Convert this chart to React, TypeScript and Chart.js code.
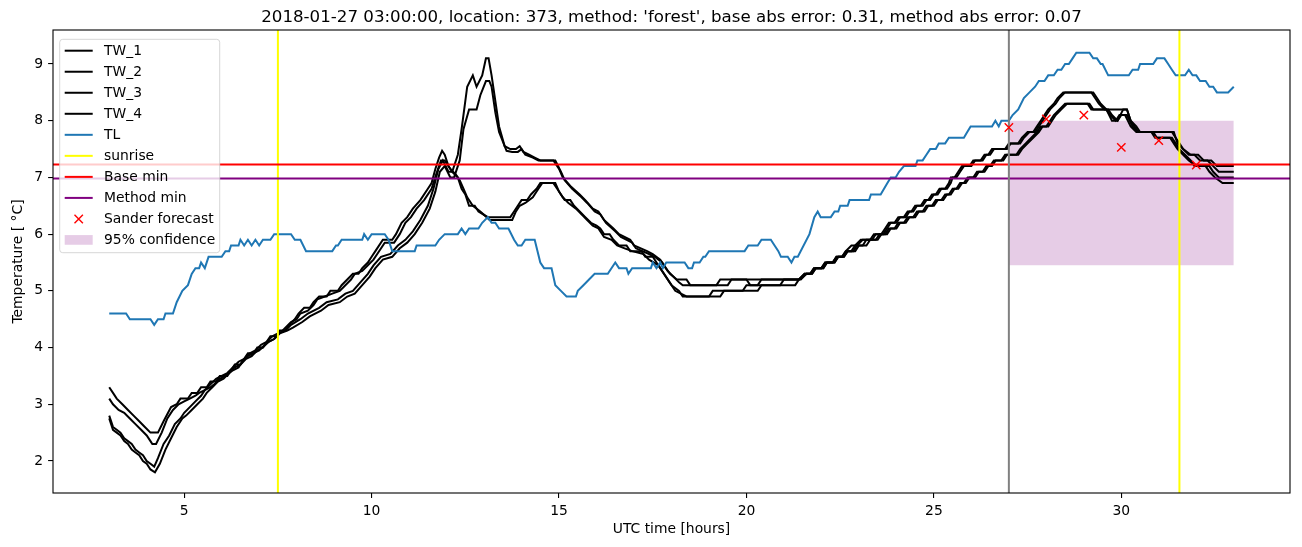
import { useEffect, useRef } from 'react';
import { Chart, registerables } from 'chart.js';

Chart.register(...registerables);

type P = [number, number];

const TITLE = "2018-01-27 03:00:00, location: 373, method: 'forest', base abs error: 0.31, method abs error: 0.07";
const X_LABEL = 'UTC time [hours]';
const Y_LABEL = 'Temperature [ \u00B0C]';
const X_TICKS = [5, 10, 15, 20, 25, 30];
const Y_TICKS = [2, 3, 4, 5, 6, 7, 8, 9];
const X_RANGE = [1.5, 34.5];
const Y_RANGE = [1.435, 9.6];

const TW_1: P[] = [
  [3.0,3.3],[3.1,3.2],[3.2,3.1],[3.35,3.0],[3.5,2.9],[3.65,2.8],[3.8,2.7],[3.95,2.6],[4.1,2.5],[4.3,2.5],
  [4.45,2.7],[4.65,2.95],[4.8,3.0],[4.9,3.1],[5.1,3.1],[5.2,3.2],[5.35,3.2],[5.45,3.3],[5.6,3.3],[5.7,3.4],[5.85,3.4],[5.95,3.5],[6.15,3.5],[6.25,3.6],[6.35,3.7],[6.5,3.7],[6.6,3.8],[6.7,3.9],[6.85,3.9],[6.95,4.0],[7.1,4.0],[7.2,4.1],[7.3,4.2],[7.45,4.2],[7.55,4.3],[7.7,4.3],
  [7.8,4.4],[7.95,4.5],[8.05,4.6],[8.2,4.7],[8.35,4.7],[8.45,4.8],[8.6,4.9],[8.8,4.9],[8.9,5.0],[9.1,5.0],[9.2,5.1],[9.35,5.2],[9.5,5.3],[9.65,5.3],[9.75,5.4],[9.9,5.5],[10.0,5.6],[10.1,5.7],[10.3,5.9],[10.55,5.9],[10.65,6.0],[10.8,6.2],[10.95,6.3],[11.1,6.45],[11.3,6.6],[11.5,6.8],[11.6,6.9],[11.7,7.15],[11.8,7.35],[11.88,7.47],[11.95,7.4],[12.05,7.2],[12.15,7.1],[12.3,7.0],[12.4,6.8],[12.5,6.7],[12.6,6.5],[12.75,6.5],[12.85,6.4],[13.1,6.3],[13.7,6.3],[13.8,6.4],[13.9,6.5],[14.0,6.6],[14.15,6.6],[14.25,6.7],[14.4,6.8],[14.5,6.9],[14.85,6.9],[14.95,6.8],[15.05,6.7],[15.15,6.6],[15.3,6.6],[15.4,6.5],[15.55,6.4],[15.7,6.3],[15.85,6.2],[16.0,6.15],[16.1,6.1],[16.2,6.0],[16.35,6.0],[16.45,5.9],[16.6,5.8],[16.8,5.8],[16.9,5.7],[17.2,5.7],[17.3,5.6],[17.5,5.6],[17.6,5.5],[17.7,5.4],[17.8,5.3],[17.9,5.2],[18.0,5.1],[18.2,5.0],[18.3,4.9],[19.0,4.9],[19.1,5.0],[19.9,5.0],[20.0,5.1],[21.3,5.1],[21.4,5.2],
  [21.55,5.3],[21.7,5.3],[21.8,5.4],[22.0,5.4],[22.1,5.5],[22.3,5.5],[22.4,5.6],[22.55,5.6],[22.65,5.7],[22.8,5.8],[23.1,5.8],[23.2,5.9],[23.45,5.9],[23.55,6.0],[23.7,6.0],[23.8,6.1],[23.95,6.1],[24.05,6.2],[24.2,6.2],[24.3,6.3],[24.45,6.3],[24.55,6.4],[24.7,6.4],[24.8,6.5],[24.95,6.5],[25.05,6.6],[25.2,6.6],[25.3,6.7],[25.4,6.7],[25.5,6.8],[25.6,6.8],[25.7,6.9],[25.8,6.9],[25.9,7.0],[26.05,7.0],[26.15,7.1],[26.3,7.1],[26.4,7.2],[26.5,7.2],[26.6,7.3],[26.8,7.3],[26.9,7.4],[27.2,7.4],[27.3,7.5],[27.45,7.6],[27.6,7.7],[27.75,7.8],[27.85,7.9],[28.0,7.9],[28.1,8.0],[28.2,8.1],[28.35,8.2],[28.5,8.3],[29.1,8.3],[29.2,8.2],[29.6,8.2],[29.7,8.1],[29.85,8.0],[29.95,8.1],[30.1,8.1],[30.25,7.9],[30.4,7.8],[30.8,7.8],[30.9,7.7],[31.3,7.7],[31.4,7.6],[31.5,7.5],[31.65,7.4],[31.8,7.3],[32.0,7.2],[32.35,7.2],[32.45,7.1],[32.6,7.0],[33.0,7.0]
];

const TW_2: P[] = [
  [3.0,3.1],[3.1,3.0],[3.25,2.9],[3.4,2.85],[3.55,2.75],[3.7,2.65],[3.85,2.55],[4.0,2.45],[4.1,2.35],[4.15,2.3],[4.25,2.3],[4.4,2.5],[4.55,2.75],[4.7,2.9],[4.85,3.0],[5.0,3.05],[5.15,3.1],[5.3,3.15],[5.4,3.2],[5.55,3.25],[5.7,3.3],[5.8,3.35],[5.95,3.45],[6.1,3.5],[6.3,3.6],[6.45,3.65],[6.55,3.75],[6.7,3.85],[6.85,3.9],[7.0,3.95],[7.15,4.05],[7.25,4.1],[7.4,4.15],[7.55,4.25],[7.7,4.35],[7.85,4.45],[8.0,4.5],[8.1,4.6],[8.3,4.65],[8.45,4.75],[8.55,4.85],[8.75,4.9],[8.95,4.95],[9.15,5.0],[9.3,5.1],[9.45,5.2],[9.55,5.3],[9.75,5.35],[9.9,5.45],[10.05,5.55],[10.15,5.65],[10.35,5.85],[10.6,5.85],[10.75,6.0],[10.9,6.2],[11.05,6.3],[11.2,6.45],[11.4,6.6],[11.6,6.8],[11.72,7.05],[11.85,7.3],[11.95,7.3],[12.1,7.15],[12.25,7.05],[12.35,6.95],[12.45,6.8],[12.55,6.65],[12.7,6.5],[12.9,6.4],[13.15,6.25],[13.75,6.25],[13.85,6.4],[13.95,6.5],[14.1,6.55],[14.3,6.65],[14.45,6.8],[14.55,6.9],[14.9,6.9],[15.0,6.75],[15.1,6.65],[15.25,6.55],[15.45,6.45],[15.6,6.35],[15.75,6.25],[15.9,6.15],[16.05,6.1],[16.2,5.95],[16.4,5.9],[16.55,5.8],[16.75,5.75],[16.95,5.7],[17.25,5.65],[17.4,5.55],[17.65,5.45],[17.75,5.35],[17.85,5.25],[17.95,5.15],[18.1,5.0],[18.4,4.9],[19.3,4.9],[19.4,5.0],[20.3,5.0],[20.4,5.1],[20.9,5.1],[21.0,5.2],[21.45,5.2],
  [21.6,5.3],[21.75,5.3],[21.85,5.4],[22.05,5.4],[22.15,5.5],[22.35,5.5],[22.45,5.6],[22.6,5.6],[22.7,5.7],[22.9,5.7],[23.0,5.8],[23.2,5.8],[23.3,5.9],[23.5,5.9],[23.6,6.0],[23.75,6.0],[23.85,6.1],[24.0,6.1],[24.1,6.2],[24.25,6.2],[24.35,6.3],[24.5,6.3],[24.6,6.4],[24.75,6.4],[24.85,6.5],[25.0,6.5],[25.1,6.6],[25.25,6.6],[25.35,6.7],[25.45,6.7],[25.55,6.8],[25.65,6.8],[25.75,6.9],[25.85,6.9],[25.95,7.0],[26.1,7.0],[26.2,7.1],[26.35,7.1],[26.45,7.2],[26.55,7.2],[26.65,7.3],[26.85,7.3],[26.95,7.4],[27.25,7.4],[27.35,7.5],[27.5,7.6],[27.65,7.7],[27.8,7.8],[27.9,7.9],[28.05,7.9],[28.15,8.0],[28.25,8.1],[28.4,8.2],[28.55,8.3],[29.15,8.3],[29.25,8.2],[29.65,8.2],[29.75,8.1],[29.9,8.0],[30.0,8.1],[30.15,8.1],[30.3,7.9],[30.45,7.8],[30.85,7.8],[30.95,7.7],[31.35,7.7],[31.45,7.6],[31.55,7.5],[31.7,7.4],[31.85,7.3],[31.95,7.2],[32.25,7.2],[32.35,7.1],[32.5,7.0],[32.7,6.9],[33.0,6.9]
];

const TW_3: P[] = [
  [3.0,2.8],[3.1,2.6],[3.2,2.55],[3.3,2.5],[3.4,2.4],[3.5,2.35],[3.6,2.3],[3.7,2.2],[3.8,2.15],[3.9,2.1],[4.0,2.0],[4.1,1.95],[4.2,1.9],[4.3,2.05],[4.45,2.3],[4.6,2.45],[4.75,2.65],[4.9,2.75],[5.0,2.85],[5.15,2.95],[5.3,3.05],[5.45,3.15],[5.55,3.25],[5.7,3.35],[5.85,3.45],[6.0,3.5],[6.15,3.55],[6.3,3.65],[6.45,3.75],[6.6,3.8],[6.75,3.9],[6.9,3.95],[7.05,4.05],[7.2,4.1],[7.35,4.2],[7.5,4.25],[7.7,4.3],
  [7.85,4.4],[8.1,4.5],[8.3,4.6],[8.6,4.7],[8.8,4.8],[9.1,4.85],[9.3,4.95],[9.5,5.0],[9.7,5.15],[9.9,5.3],[10.05,5.45],[10.25,5.6],[10.5,5.65],[10.7,5.8],[10.9,5.9],[11.1,6.05],[11.3,6.25],[11.5,6.5],[11.65,6.8],[11.78,7.15],[11.9,7.3],[12.05,7.1],[12.15,7.1],[12.3,7.4],[12.4,7.85],[12.55,8.6],[12.7,8.8],[12.8,8.6],[12.95,8.8],[13.05,9.1],[13.12,9.1],[13.2,8.8],[13.3,8.35],[13.4,7.9],[13.55,7.55],[13.7,7.5],[13.85,7.5],[13.95,7.55],[14.05,7.45],[14.2,7.4],[14.35,7.35],[14.5,7.3],[14.85,7.3],[15.0,7.15],[15.1,7.0],[15.3,6.85],[15.55,6.7],[15.7,6.6],[15.9,6.45],[16.05,6.4],[16.2,6.25],[16.45,6.1],[16.6,6.0],[16.9,5.9],[17.0,5.8],[17.35,5.7],[17.5,5.65],[17.7,5.55],[17.85,5.4],[17.96,5.3],[18.14,5.2],[18.4,5.2],[18.5,5.1],[19.2,5.1],[19.3,5.2],[20.0,5.2],[20.1,5.1],[20.3,5.1],[20.4,5.2],[21.4,5.2],
  [21.55,5.3],[21.7,5.3],[21.8,5.4],[22.0,5.4],[22.1,5.5],[22.3,5.5],[22.4,5.6],[22.55,5.6],[22.65,5.7],[22.8,5.7],[22.9,5.8],[23.05,5.9],[23.3,5.9],[23.4,6.0],[23.6,6.0],[23.7,6.1],[23.8,6.2],[23.95,6.2],[24.05,6.3],[24.2,6.3],[24.3,6.4],[24.4,6.4],[24.5,6.5],[24.65,6.5],[24.75,6.6],[24.85,6.6],[24.95,6.7],[25.05,6.7],[25.15,6.8],[25.3,6.8],[25.4,6.9],[25.45,7.0],[25.55,7.0],[25.65,7.1],[25.75,7.2],[25.95,7.2],[26.05,7.3],[26.25,7.3],[26.35,7.4],[26.45,7.4],[26.55,7.5],[26.9,7.5],[27.0,7.6],[27.25,7.6],[27.35,7.7],[27.5,7.8],[27.65,7.8],[27.75,7.9],[27.85,8.0],[27.95,8.1],[28.05,8.2],[28.2,8.3],[28.3,8.4],[28.45,8.5],[29.25,8.5],[29.35,8.4],[29.45,8.3],[29.6,8.2],[29.75,8.0],[29.9,8.0],[30.05,8.2],[30.15,8.2],[30.25,8.0],[30.4,7.9],[30.5,7.8],[31.4,7.8],[31.5,7.6],[31.65,7.5],[31.85,7.4],[32.05,7.4],[32.2,7.3],[32.4,7.3],[32.55,7.2],[33.0,7.2]
];

const TW_4: P[] = [
  [3.0,2.75],[3.1,2.55],[3.2,2.5],[3.3,2.45],[3.4,2.35],[3.5,2.3],[3.6,2.2],[3.7,2.15],[3.8,2.1],[3.9,2.0],[4.0,1.95],[4.1,1.85],[4.22,1.8],[4.35,1.95],[4.5,2.2],[4.65,2.4],[4.8,2.6],[4.95,2.75],[5.05,2.8],[5.2,2.9],[5.35,3.0],[5.5,3.1],[5.6,3.2],[5.75,3.3],[5.9,3.4],[6.05,3.45],[6.2,3.55],[6.35,3.65],[6.5,3.7],[6.65,3.8],[6.8,3.85],[6.95,3.95],[7.1,4.0],[7.25,4.1],[7.4,4.15],[7.55,4.25],[7.75,4.3],[7.9,4.35],[8.15,4.45],[8.35,4.55],[8.65,4.65],[8.85,4.75],[9.15,4.8],[9.35,4.9],[9.55,4.95],[9.75,5.1],[9.95,5.25],[10.1,5.4],[10.3,5.55],[10.55,5.6],[10.75,5.75],[10.95,5.85],[11.15,6.0],[11.35,6.2],[11.55,6.45],[11.7,6.75],[11.82,7.1],[11.95,7.2],[12.1,7.0],[12.2,7.0],[12.35,7.3],[12.45,7.85],[12.6,8.2],[12.8,8.2],[12.9,8.45],[13.05,8.7],[13.14,8.7],[13.2,8.6],[13.3,8.15],[13.4,7.8],[13.6,7.47],[13.75,7.45],[13.9,7.45],[14.0,7.5],[14.1,7.4],[14.3,7.35],[14.45,7.3],[14.9,7.3],[15.05,7.1],[15.15,6.95],[15.35,6.8],[15.6,6.65],[15.75,6.55],[15.95,6.4],[16.1,6.35],[16.25,6.2],[16.5,6.05],[16.65,5.95],[16.95,5.85],[17.05,5.75],[17.4,5.65],[17.55,5.6],[17.75,5.5],[17.9,5.35],[18.05,5.25],[18.2,5.15],[18.3,5.1],[19.5,5.1],[19.6,5.2],[21.4,5.2],
  [21.6,5.3],[21.75,5.3],[21.85,5.4],[22.05,5.4],[22.15,5.5],[22.35,5.5],[22.45,5.6],[22.6,5.6],[22.7,5.7],[22.85,5.7],[22.95,5.8],[23.1,5.9],[23.35,5.9],[23.45,6.0],[23.65,6.0],[23.75,6.1],[23.85,6.2],[24.0,6.2],[24.1,6.3],[24.25,6.3],[24.35,6.4],[24.45,6.4],[24.55,6.5],[24.7,6.5],[24.8,6.6],[24.9,6.6],[25.0,6.7],[25.1,6.7],[25.2,6.8],[25.35,6.8],[25.45,6.9],[25.5,7.0],[25.6,7.0],[25.7,7.1],[25.8,7.2],[26.0,7.2],[26.1,7.3],[26.3,7.3],[26.4,7.4],[26.5,7.4],[26.6,7.5],[26.95,7.5],[27.05,7.6],[27.3,7.6],[27.4,7.7],[27.55,7.8],[27.7,7.8],[27.8,7.9],[27.9,8.0],[28.0,8.1],[28.1,8.2],[28.25,8.3],[28.35,8.4],[28.5,8.5],[29.2,8.5],[29.3,8.4],[29.4,8.3],[29.55,8.2],[30.15,8.2],[30.25,8.0],[30.35,7.9],[30.45,7.8],[31.35,7.8],[31.45,7.7],[31.55,7.6],[31.65,7.5],[31.8,7.4],[31.95,7.4],[32.1,7.3],[32.3,7.3],[32.45,7.2],[32.6,7.1],[33.0,7.1]
];

const TL: P[] = [
  [3.0,4.6],[3.45,4.6],[3.55,4.5],[4.1,4.5],[4.2,4.4],[4.3,4.5],[4.45,4.5],[4.5,4.6],[4.7,4.6],[4.8,4.8],[4.95,5.0],[5.1,5.1],[5.2,5.3],[5.3,5.4],[5.4,5.4],[5.45,5.5],[5.55,5.4],[5.65,5.6],[6.0,5.6],[6.1,5.7],[6.2,5.7],[6.25,5.8],[6.45,5.8],[6.5,5.9],[6.6,5.8],[6.7,5.9],[6.8,5.8],[6.9,5.9],[7.0,5.8],[7.1,5.9],[7.3,5.9],[7.4,6.0],[7.85,6.0],[7.95,5.9],[8.1,5.9],[8.25,5.7],[8.95,5.7],[9.05,5.8],[9.1,5.8],[9.2,5.9],[9.75,5.9],[9.8,6.0],[9.9,5.9],[10.0,6.0],[10.35,6.0],[10.45,5.9],[10.55,5.7],[11.15,5.7],[11.2,5.8],[11.7,5.8],[11.8,5.9],[11.95,6.0],[12.3,6.0],[12.4,6.1],[12.5,6.0],[12.6,6.1],[12.85,6.1],[12.95,6.2],[13.1,6.3],[13.2,6.2],[13.3,6.2],[13.4,6.1],[13.65,6.1],[13.8,5.9],[13.9,5.8],[14.0,5.8],[14.1,5.9],[14.35,5.9],[14.5,5.5],[14.6,5.4],[14.8,5.4],[14.9,5.1],[15.05,5.0],[15.2,4.9],[15.45,4.9],[15.5,5.0],[15.65,5.1],[15.8,5.2],[15.95,5.3],[16.3,5.3],[16.5,5.5],[16.6,5.4],[16.8,5.4],[16.85,5.3],[16.95,5.4],[17.45,5.4],[17.5,5.5],[17.6,5.4],[17.7,5.5],[17.77,5.4],[17.86,5.5],[18.35,5.5],[18.45,5.4],[18.55,5.4],[18.6,5.5],[18.75,5.5],[18.85,5.6],[18.9,5.6],[19.0,5.7],[19.95,5.7],[20.05,5.8],[20.3,5.8],[20.4,5.9],[20.65,5.9],[20.75,5.8],[20.85,5.7],[20.92,5.6],[21.1,5.6],[21.2,5.5],[21.28,5.6],[21.37,5.6],[21.68,6.0],[21.81,6.3],[21.9,6.4],[21.98,6.3],[22.25,6.3],[22.35,6.4],[22.45,6.4],[22.5,6.5],[22.7,6.5],[22.75,6.6],[23.27,6.6],[23.32,6.7],[23.58,6.7],[23.67,6.8],[23.76,6.9],[23.85,7.0],[23.98,7.0],[24.07,7.1],[24.2,7.2],[24.51,7.2],[24.56,7.3],[24.7,7.3],[24.8,7.4],[24.9,7.5],[25.05,7.5],[25.13,7.6],[25.3,7.6],[25.4,7.7],[25.8,7.7],[25.89,7.8],[25.98,7.9],[26.55,7.9],[26.64,8.0],[26.73,7.9],[26.8,8.0],[27.0,8.0],[27.1,8.1],[27.25,8.2],[27.4,8.4],[27.55,8.5],[27.7,8.6],[27.8,8.7],[27.95,8.7],[28.05,8.8],[28.2,8.8],[28.3,8.9],[28.4,8.9],[28.5,9.0],[28.6,9.0],[28.7,9.1],[28.8,9.2],[29.15,9.2],[29.25,9.1],[29.35,9.1],[29.45,9.0],[29.5,9.0],[29.65,8.8],[30.2,8.8],[30.3,8.9],[30.45,8.9],[30.5,9.0],[30.85,9.0],[30.95,9.1],[31.15,9.1],[31.25,9.0],[31.35,8.9],[31.45,8.8],[31.7,8.8],[31.8,8.9],[31.9,8.8],[32.0,8.8],[32.1,8.7],[32.25,8.7],[32.35,8.6],[32.45,8.6],[32.55,8.5],[32.85,8.5],[33.0,8.6]
];

const SANDER_T = [27, 28, 29, 30, 31, 32];
const SANDER = [7.88, 8.03, 8.1, 7.53, 7.65, 7.22];
const SUNRISE = [7.5, 31.55];
const BASE_MIN = 7.23;
const METHOD_MIN = 6.98;
const FORECAST_START = 27;
const CONF_T = [27, 33];
const CONF_LOW = 5.45;
const CONF_HIGH = 8.0;

const BLUE = '#1f77b4';
const PURPLE = '#800080';
const FONT = '"DejaVu Sans", sans-serif';

const LEGEND = [
  { label: 'TW_1', kind: 'line', color: '#000000' },
  { label: 'TW_2', kind: 'line', color: '#000000' },
  { label: 'TW_3', kind: 'line', color: '#000000' },
  { label: 'TW_4', kind: 'line', color: '#000000' },
  { label: 'TL', kind: 'line', color: BLUE },
  { label: 'sunrise', kind: 'line', color: '#ffff00' },
  { label: 'Base min', kind: 'line', color: '#ff0000' },
  { label: 'Method min', kind: 'line', color: PURPLE },
  { label: 'Sander forecast', kind: 'marker', color: '#ff0000' },
  { label: '95% confidence', kind: 'patch', color: 'rgba(128,0,128,0.2)' },
];

const toXY = (arr: P[]) => arr.map(([x, y]) => ({ x, y }));

const decorPlugin = {
  id: 'decor',
  afterDatasetsDraw(chart: any) {
    const ctx = chart.ctx as CanvasRenderingContext2D;
    const { left, right, top, bottom } = chart.chartArea;
    ctx.save();
    ctx.strokeStyle = '#000';
    ctx.lineWidth = 1.1;
    ctx.strokeRect(left, top, right - left, bottom - top);

    const bx = 59.7, by = 39.3, bw = 160, bh = 213.4;
    ctx.beginPath();
    (ctx as any).roundRect(bx, by, bw, bh, 3);
    ctx.fillStyle = 'rgba(255,255,255,0.8)';
    ctx.fill();
    ctx.strokeStyle = 'rgba(204,204,204,0.8)';
    ctx.lineWidth = 1;
    ctx.stroke();
    ctx.font = `13.89px ${FONT}`;
    ctx.textBaseline = 'middle';
    ctx.textAlign = 'left';
    LEGEND.forEach((e, i) => {
      const y = 50.7 + i * 21.03;
      const x0 = 64.7, x1 = 92.7;
      if (e.kind === 'line') {
        ctx.strokeStyle = e.color;
        ctx.lineWidth = 2;
        ctx.beginPath();
        ctx.moveTo(x0, y);
        ctx.lineTo(x1, y);
        ctx.stroke();
      } else if (e.kind === 'marker') {
        const cx = (x0 + x1) / 2, r = 4.2;
        ctx.strokeStyle = e.color;
        ctx.lineWidth = 1.4;
        ctx.beginPath();
        ctx.moveTo(cx - r, y - r); ctx.lineTo(cx + r, y + r);
        ctx.moveTo(cx - r, y + r); ctx.lineTo(cx + r, y - r);
        ctx.stroke();
      } else {
        ctx.fillStyle = e.color;
        ctx.fillRect(x0, y - 4.9, x1 - x0, 9.7);
      }
      ctx.fillStyle = '#000';
      ctx.fillText(e.label, 104, y + 0.5);
    });
    ctx.restore();
  },
  afterDraw(chart: any) {
    const ctx = chart.ctx as CanvasRenderingContext2D;
    const { left, right, top, bottom } = chart.chartArea;
    ctx.save();
    ctx.fillStyle = '#000';
    ctx.textAlign = 'center';
    ctx.font = `16.67px ${FONT}`;
    ctx.textBaseline = 'alphabetic';
    ctx.fillText(TITLE, (left + right) / 2, 22);
    ctx.font = `13.89px ${FONT}`;
    ctx.textBaseline = 'middle';
    ctx.fillText(X_LABEL, (left + right) / 2, 529);
    ctx.translate(18.5, (top + bottom) / 2);
    ctx.rotate(-Math.PI / 2);
    ctx.fillText(Y_LABEL, 0, 0);
    ctx.restore();
  },
};

export default function App() {
  const ref = useRef<HTMLCanvasElement>(null);
  useEffect(() => {
    if (!ref.current) return;
    const black = (label: string, data: P[], order: number) => ({
      label,
      data: toXY(data),
      borderColor: '#000000',
      borderWidth: 2,
      pointRadius: 0,
      tension: 0,
      fill: false,
      order,
    });
    const hline = (label: string, y: number, color: string, order: number) => ({
      label,
      data: [{ x: X_RANGE[0], y }, { x: X_RANGE[1], y }],
      borderColor: color,
      borderWidth: 2,
      pointRadius: 0,
      fill: false,
      order,
    });
    const vline = (label: string, x: number, color: string, order: number) => ({
      label,
      data: [{ x, y: Y_RANGE[0] }, { x, y: Y_RANGE[1] }],
      borderColor: color,
      borderWidth: 2,
      pointRadius: 0,
      fill: false,
      order,
    });
    const chart = new Chart(ref.current, {
      type: 'line',
      data: {
        datasets: [
          {
            label: '95% confidence',
            data: CONF_T.map((x) => ({ x, y: CONF_HIGH })),
            borderWidth: 0,
            borderColor: 'rgba(0,0,0,0)',
            backgroundColor: 'rgba(128,0,128,0.2)',
            pointRadius: 0,
            fill: { value: CONF_LOW },
            order: 100,
          } as any,
          black('TW_1', TW_1, 50),
          black('TW_2', TW_2, 49),
          black('TW_3', TW_3, 48),
          black('TW_4', TW_4, 47),
          {
            label: 'TL',
            data: toXY(TL),
            borderColor: BLUE,
            borderWidth: 2,
            pointRadius: 0,
            tension: 0,
            fill: false,
            order: 46,
          },
          vline('sunrise', SUNRISE[0], '#ffff00', 45),
          vline('sunrise_2', SUNRISE[1], '#ffff00', 45),
          hline('Base min', BASE_MIN, '#ff0000', 44),
          hline('Method min', METHOD_MIN, PURPLE, 43),
          vline('forecast start', FORECAST_START, '#808080', 42),
          {
            label: 'Sander forecast',
            data: SANDER_T.map((x, i) => ({ x, y: SANDER[i] })),
            showLine: false,
            pointStyle: 'crossRot',
            pointRadius: 5.9,
            pointBorderColor: '#ff0000',
            pointBorderWidth: 1.4,
            borderColor: '#ff0000',
            backgroundColor: '#ff0000',
            order: 41,
          } as any,
        ],
      },
      options: {
        animation: false,
        responsive: false,
        devicePixelRatio: 1,
        events: [],
        layout: { padding: { left: 0, top: 30, right: 12, bottom: 0 } },
        plugins: {
          legend: { display: false },
          title: { display: false },
          tooltip: { enabled: false },
        },
        scales: {
          x: {
            type: 'linear',
            min: X_RANGE[0],
            max: X_RANGE[1],
            afterFit: (s: any) => { s.height = 54; },
            afterBuildTicks: (s: any) => { s.ticks = X_TICKS.map((v) => ({ value: v })); },
            grid: { display: true, drawOnChartArea: false, drawTicks: true, tickLength: 4.9, color: '#000', lineWidth: 1.1 },
            border: { display: false },
            ticks: { color: '#000', padding: 4.9, maxRotation: 0, font: { family: FONT, size: 13.89 }, callback: (v: any) => String(v) },
          },
          y: {
            type: 'linear',
            min: Y_RANGE[0],
            max: Y_RANGE[1],
            afterFit: (s: any) => { s.width = 53; },
            afterBuildTicks: (s: any) => { s.ticks = Y_TICKS.map((v) => ({ value: v })); },
            grid: { display: true, drawOnChartArea: false, drawTicks: true, tickLength: 4.9, color: '#000', lineWidth: 1.1 },
            border: { display: false },
            ticks: { color: '#000', padding: 4.9, font: { family: FONT, size: 13.89 }, callback: (v: any) => String(v) },
          },
        },
      } as any,
      plugins: [decorPlugin],
    });
    return () => chart.destroy();
  }, []);
  return (
    <div style={{ position: 'absolute', left: 0, top: 0, width: 1302, height: 547, background: '#fff' }}>
      <canvas ref={ref} width={1302} height={547} style={{ width: 1302, height: 547, display: 'block' }} />
    </div>
  );
}
